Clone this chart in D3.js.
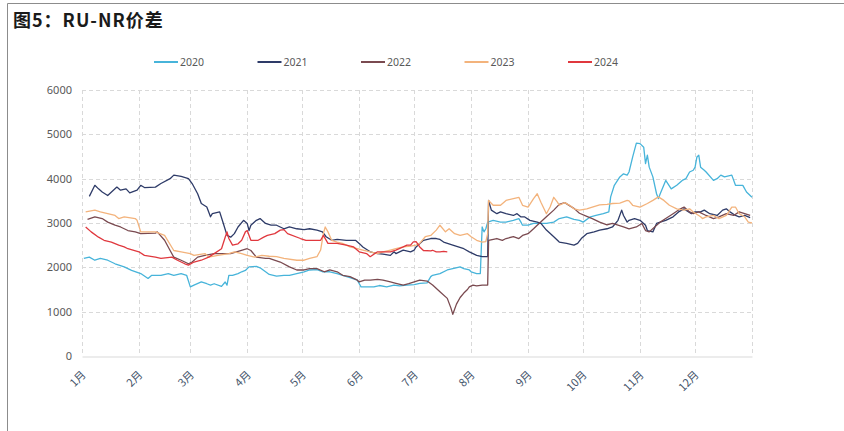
<!DOCTYPE html>
<html><head><meta charset="utf-8">
<script src="https://cdn.jsdelivr.net/npm/d3@7"></script>
<style>
html,body{margin:0;padding:0;background:#fff;}
svg{display:block;}
</style></head>
<body>
<svg id="chart" width="844" height="431"></svg>
<script>
const title = "图5：RU-NR价差";
const seriesNames = ["2020","2021","2022","2023","2024"];
const seriesColors = ["#47B4DA","#2E3B68","#7A4A50","#F3B37C","#E0383E"];
const monthDays = [0,31,59,90,120,151,181,212,243,273,304,334,365];
const monthLabels = ["1月","2月","3月","4月","5月","6月","7月","8月","9月","10月","11月","12月"];
const yTicks = [0,1000,2000,3000,4000,5000,6000];

// [day of year, value]
const s2020 = [[1,2200],[4,2230],[7,2160],[10,2200],[14,2160],[18,2080],[23,2010],[27,1930],[32,1860],[36,1750],[38,1820],[43,1820],[47,1860],[50,1820],[54,1860],[57,1820],[59,1560],[61,1600],[65,1670],[68,1630],[70,1600],[72,1630],[76,1570],[78,1670],[79,1600],[80,1820],[82,1820],[85,1860],[87,1900],[89,1930],[91,2010],[95,2020],[97,1990],[100,1900],[102,1840],[106,1800],[110,1820],[113,1820],[117,1860],[121,1900],[124,1940],[128,1950],[131,1900],[135,1900],[139,1860],[142,1820],[146,1770],[150,1710],[152,1560],[155,1560],[159,1560],[162,1590],[166,1560],[170,1600],[173,1580],[177,1600],[181,1610],[184,1640],[188,1650],[190,1790],[191,1820],[195,1860],[199,1940],[202,1970],[206,2010],[208,1970],[211,1940],[212,1900],[215,1860],[217,1860],[218,2910],[219,2800],[220,2870],[221,3020],[224,3060],[228,3020],[231,3020],[235,3060],[238,3100],[239.5,2990],[240,2950],[243,2950],[246,2990],[250,2990],[253,2990],[257,3020],[260,3100],[264,3140],[268,3080],[271,3060],[273,3020],[277,3140],[280,3170],[284,3210],[287,3250],[288,3590],[290,3850],[293,4040],[295,4110],[297,4080],[298,4150],[300,4490],[302,4800],[304,4790],[306,4710],[307,4340],[308,4530],[309,4260],[311,4040],[313,3660],[314,3550],[315,3660],[318,3960],[321,3770],[324,3850],[327,3960],[329,4000],[331,4150],[333,4190],[334,4260],[335,4490],[336,4530],[337,4260],[339,4190],[340,4150],[344,3960],[346,4000],[348,4080],[350,4040],[354,4080],[356,3850],[360,3850],[362,3700],[365,3580]];
const s2021 = [[4,3600],[7,3850],[9,3770],[11,3700],[14,3620],[19,3810],[21,3740],[24,3770],[26,3680],[30,3740],[32,3850],[34,3800],[40,3810],[43,3890],[48,4000],[50,4080],[54,4050],[58,4000],[60,3890],[63,3660],[65,3440],[68,3360],[70,3140],[71,3210],[75,3250],[77,2990],[79,2720],[81,2680],[83,2760],[85,2910],[88,3060],[90,2990],[91,2830],[92,2950],[95,3060],[97,3100],[100,2990],[103,2950],[106,2950],[110,2870],[113,2910],[117,2870],[121,2850],[124,2870],[128,2840],[131,2800],[133,2690],[136,2610],[139,2630],[144,2610],[149,2610],[151,2540],[153,2460],[157,2350],[161,2310],[164,2300],[168,2270],[170,2350],[171,2310],[175,2390],[179,2350],[181,2390],[182,2460],[186,2610],[190,2650],[193,2650],[195,2630],[197,2570],[202,2500],[208,2420],[211,2350],[215,2270],[218,2240],[221,2240],[221.5,3510],[223,3290],[226,3210],[228,3250],[231,3210],[235,3170],[237,3210],[239,3140],[241,3140],[244,3060],[248,3020],[250,2990],[253,2840],[257,2690],[260,2570],[264,2540],[268,2500],[270,2540],[272,2650],[275,2760],[279,2800],[282,2840],[286,2870],[289,2910],[292,3060],[294,3290],[295,3170],[297,3020],[298,3060],[301,3100],[304,3060],[307,2950],[308,2830],[311,2800],[313,2990],[315,3020],[318,3060],[322,3140],[325,3250],[328,3320],[329,3290],[332,3210],[334,3250],[337,3250],[339,3290],[342,3210],[346,3170],[349,3290],[351,3320],[353,3250],[356,3170],[358,3140],[361,3170],[364,3120]];
const s2022 = [[3,3080],[7,3140],[11,3100],[14,3020],[18,2950],[21,2910],[25,2830],[29,2800],[32,2760],[40,2770],[41,2800],[45,2610],[48,2380],[50,2230],[54,2160],[58,2080],[60,2120],[63,2230],[67,2270],[72,2310],[81,2310],[90,2420],[92,2380],[95,2230],[100,2200],[102,2200],[108,2120],[113,2010],[117,1940],[121,1940],[124,1970],[128,1970],[132,1900],[135,1940],[139,1900],[142,1820],[146,1790],[150,1710],[151,1670],[154,1710],[157,1710],[161,1730],[164,1710],[168,1670],[171,1640],[175,1600],[178,1630],[181,1670],[184,1710],[188,1690],[191,1600],[195,1450],[199,1300],[201,1080],[202,940],[204,1170],[206,1320],[208,1420],[210,1500],[211,1560],[213,1600],[215,1580],[218,1600],[221,1600],[221.5,2610],[226,2650],[229,2610],[231,2650],[235,2690],[238,2650],[240,2720],[243,2760],[246,2870],[249,2990],[253,3140],[257,3290],[260,3420],[263,3460],[266,3380],[268,3330],[271,3220],[275,3150],[278,3100],[282,3020],[286,2960],[289,2990],[292,2950],[295,2910],[298,2870],[302,2910],[305,2990],[307,2830],[309,2800],[312,2910],[315,3020],[318,3100],[322,3210],[326,3320],[328,3360],[331,3250],[333,3210],[336,3250],[340,3170],[344,3100],[347,3140],[351,3210],[355,3170],[358,3250],[361,3210],[364,3170]];
const s2023 = [[2,3250],[7,3290],[10,3250],[14,3210],[18,3170],[20,3100],[23,3140],[29,3100],[30,3060],[32,2800],[40,2800],[45,2720],[50,2380],[54,2350],[59,2310],[61,2270],[67,2310],[69,2230],[74,2270],[80,2310],[83,2350],[87,2310],[90,2270],[94,2230],[98,2270],[102,2250],[106,2240],[110,2200],[117,2160],[121,2160],[124,2200],[128,2240],[130,2390],[131.5,2760],[132.5,2910],[134,2800],[136,2610],[139,2570],[142,2540],[146,2460],[150,2420],[153,2390],[157,2350],[161,2310],[164,2350],[168,2390],[171,2420],[175,2460],[179,2480],[182,2500],[184,2540],[187,2690],[190,2720],[193,2840],[195,2950],[198,2800],[200,2870],[203,2760],[206,2720],[210,2760],[212,2690],[215,2610],[218,2570],[220,2580],[221,2760],[221.5,3510],[224,3400],[228,3400],[231,3510],[235,3550],[238,3580],[240,3400],[243,3360],[246,3550],[248,3660],[250,3470],[253,3210],[255,3360],[257,3580],[259,3470],[260,3400],[263,3460],[266,3390],[268,3320],[271,3290],[275,3320],[278,3360],[282,3410],[286,3420],[289,3440],[293,3450],[297,3510],[298,3500],[300,3400],[304,3360],[308,3440],[311,3510],[314,3590],[317,3510],[320,3400],[324,3320],[328,3290],[331,3320],[333,3250],[337,3140],[338,3100],[340,3140],[344,3170],[347,3100],[351,3170],[354,3360],[356,3360],[358,3210],[361,3140],[363,3020],[365,3000]];
const s2024 = [[2,2910],[5,2800],[9,2680],[12,2610],[16,2570],[20,2500],[23,2460],[25,2420],[31,2350],[34,2270],[40,2230],[43,2200],[49,2230],[52,2160],[56,2080],[58,2050],[61,2120],[65,2160],[69,2230],[72,2310],[76,2420],[78,2680],[79,2800],[80,2650],[82,2500],[85,2530],[87,2610],[89,2800],[90,2830],[92,2610],[96,2610],[99,2680],[101,2720],[105,2760],[108,2840],[110,2850],[112,2760],[119,2650],[122,2610],[130,2610],[131.5,2720],[134,2540],[139,2540],[144,2500],[148,2460],[151,2350],[155,2310],[157,2240],[161,2350],[164,2350],[168,2350],[171,2390],[175,2460],[177,2500],[179,2500],[180.5,2575],[182,2580],[184,2460],[186,2380],[190,2370],[191,2385],[193,2350],[195,2350],[197,2360],[199,2350]];
const seriesData = [s2020,s2021,s2022,s2023,s2024];

const svg = d3.select("#chart");
const W = 844, H = 431;
const m = {left:82, right:92, top:90, bottom:75};
const x = d3.scaleLinear().domain([0,365]).range([m.left, W-m.right]);
const y = d3.scaleLinear().domain([0,6000]).range([H-m.bottom, m.top]);

// outer frame
svg.append("path").attr("d", `M7.5,${H} L7.5,3.5 L${W},3.5`)
  .attr("fill","none").attr("stroke","#8c8c8c").attr("stroke-width",1);

svg.append("text").attr("x",13).attr("y",27)
  .attr("font-family","'Noto Sans CJK SC','Noto Sans',sans-serif")
  .attr("font-weight","bold").attr("font-size",18).attr("letter-spacing",1)
  .attr("fill","#1a1a1a").text(title);

// grid
const grid = svg.append("g");
grid.selectAll("line.h").data(yTicks.filter(d=>d>0)).join("line")
  .attr("x1",x(0)).attr("x2",x(365)).attr("y1",d=>Math.round(y(d))+0.5).attr("y2",d=>Math.round(y(d))+0.5)
  .attr("stroke","#d9d9d9").attr("stroke-dasharray","4,3");
grid.selectAll("line.v").data(monthDays).join("line")
  .attr("x1",d=>Math.round(x(d))+0.5).attr("x2",d=>Math.round(x(d))+0.5).attr("y1",y(6000)).attr("y2",y(0))
  .attr("stroke","#d9d9d9").attr("stroke-dasharray","4,3");

// axes
const yAxis = d3.axisLeft(y).tickValues(yTicks).tickSize(0).tickPadding(10).tickFormat(d3.format("d"));
const gy = svg.append("g").attr("transform",`translate(${m.left},0)`).call(yAxis);
gy.select(".domain").remove();
gy.selectAll("text").attr("font-family","'Noto Sans',sans-serif").attr("font-size",11).attr("fill","#595959");

const xAxis = d3.axisBottom(x).tickValues(monthDays.slice(0,12)).tickSize(0).tickFormat((d,i)=>monthLabels[i]);
const gx = svg.append("g").attr("transform",`translate(0,${Math.round(y(0))+0.5})`).call(xAxis);
gx.select(".domain").attr("stroke","#d9d9d9").attr("stroke-width",1.2);
gx.selectAll("text")
  .attr("font-family","'Noto Sans CJK SC',sans-serif").attr("font-size",11).attr("fill","#44546a")
  .attr("text-anchor","end").attr("dy",null).attr("y",0)
  .attr("transform","translate(4,19) rotate(-45)");

// lines
const line = d3.line().x(d=>x(d[0])).y(d=>y(d[1]));
svg.append("g").selectAll("path").data(seriesData).join("path")
  .attr("d",line).attr("fill","none")
  .attr("stroke",(d,i)=>seriesColors[i]).attr("stroke-width",1.3).attr("stroke-linejoin","round");

// legend
const leg = svg.append("g").selectAll("g").data(seriesNames).join("g")
  .attr("transform",(d,i)=>`translate(${154 + i*103.5},62)`);
leg.append("line").attr("x1",0).attr("x2",24).attr("y1",0).attr("y2",0)
  .attr("stroke",(d,i)=>seriesColors[i]).attr("stroke-width",2);
leg.append("text").attr("x",26).attr("y",0).attr("dy","0.35em")
  .attr("font-family","'Noto Sans',sans-serif").attr("font-size",10.5).attr("fill","#595959").text(d=>d);
</script>
</body></html>
